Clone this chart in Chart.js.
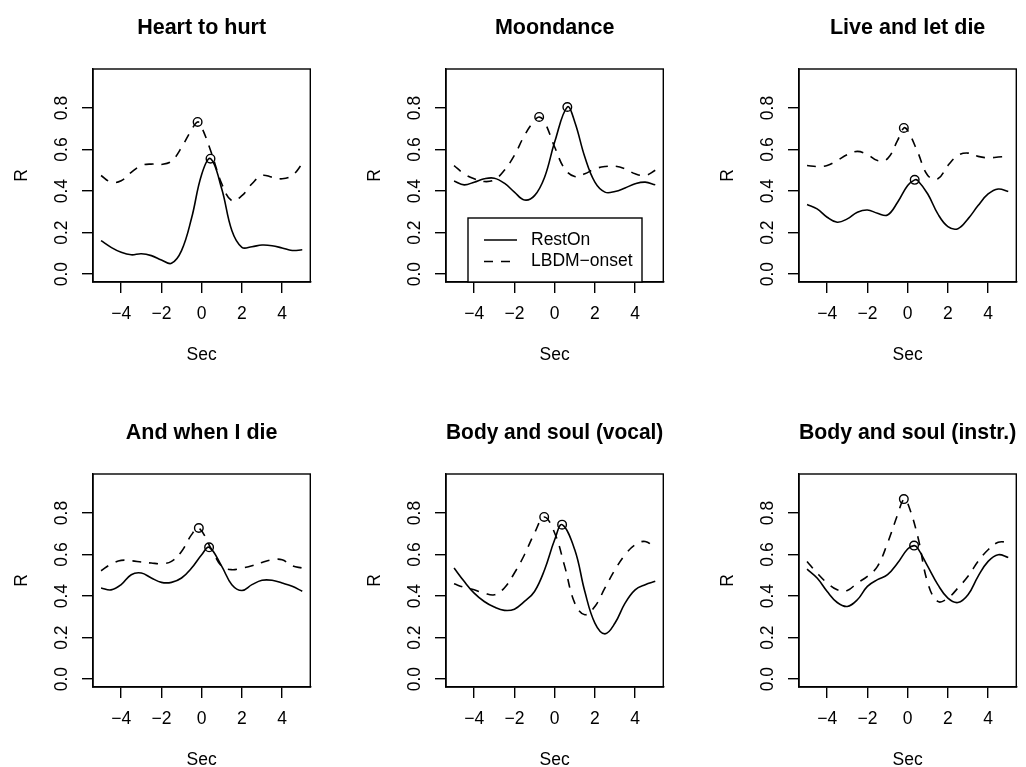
<!DOCTYPE html>
<html>
<head>
<meta charset="utf-8">
<script src="https://cdn.jsdelivr.net/npm/chart.js@4.4.1/dist/chart.umd.min.js"></script>
<style>
  body { margin: 0; background: #fff; overflow: hidden; }
  canvas { position: absolute; }
</style>
</head>
<body>
<canvas id="c0" width="316" height="362" style="left:0px;top:0px"></canvas>
<canvas id="c1" width="316" height="362" style="left:353px;top:0px"></canvas>
<canvas id="c2" width="316" height="362" style="left:706px;top:0px"></canvas>
<canvas id="c3" width="316" height="362" style="left:0px;top:405px"></canvas>
<canvas id="c4" width="316" height="362" style="left:353px;top:405px"></canvas>
<canvas id="c5" width="316" height="362" style="left:706px;top:405px"></canvas>
<script>
// lag in seconds, shared by every curve
const secs = [-5, -4.5, -4, -3.5, -3, -2.5, -2, -1.5, -1, -0.5, 0, 0.5, 1, 1.5, 2, 2.5, 3, 3.5, 4, 4.5, 5];
const xTicks = [-4, -2, 0, 2, 4];
const yTicks = [0, 0.2, 0.4, 0.6, 0.8];

const titles = ['Heart to hurt', 'Moondance', 'Live and let die',
  'And when I die', 'Body and soul (vocal)', 'Body and soul (instr.)'];

// correlation R, RestOn
const heartRest = [0.161, 0.129, 0.105, 0.093, 0.098, 0.089, 0.068, 0.052, 0.113, 0.27, 0.48, 0.55, 0.41, 0.21, 0.129, 0.132, 0.14, 0.137, 0.126, 0.114, 0.117];
const moonRest  = [0.448, 0.43, 0.443, 0.459, 0.462, 0.438, 0.395, 0.357, 0.378, 0.467, 0.636, 0.789, 0.733, 0.564, 0.443, 0.395, 0.398, 0.415, 0.435, 0.443, 0.43];
const liveRest  = [0.335, 0.314, 0.274, 0.25, 0.266, 0.298, 0.309, 0.293, 0.285, 0.346, 0.427, 0.451, 0.386, 0.29, 0.229, 0.219, 0.266, 0.33, 0.386, 0.41, 0.398];
const whenRest  = [0.439, 0.43, 0.455, 0.503, 0.511, 0.487, 0.466, 0.466, 0.487, 0.535, 0.599, 0.627, 0.543, 0.455, 0.427, 0.455, 0.476, 0.476, 0.463, 0.447, 0.423];
const vocalRest = [0.535, 0.471, 0.414, 0.374, 0.347, 0.331, 0.337, 0.374, 0.422, 0.527, 0.671, 0.736, 0.623, 0.422, 0.27, 0.218, 0.27, 0.366, 0.43, 0.455, 0.471];
const instrRest = [0.53, 0.487, 0.422, 0.369, 0.35, 0.382, 0.447, 0.479, 0.503, 0.559, 0.627, 0.631, 0.543, 0.455, 0.39, 0.369, 0.406, 0.495, 0.567, 0.599, 0.586];

// correlation R, LBDM onsets
const heartLbdm = [0.475, 0.443, 0.45, 0.49, 0.523, 0.53, 0.528, 0.544, 0.61, 0.696, 0.708, 0.58, 0.435, 0.354, 0.378, 0.435, 0.475, 0.467, 0.459, 0.475, 0.531];
const moonLbdm  = [0.523, 0.483, 0.459, 0.446, 0.454, 0.5, 0.572, 0.668, 0.74, 0.733, 0.612, 0.507, 0.47, 0.483, 0.507, 0.518, 0.52, 0.507, 0.483, 0.475, 0.5];
const liveLbdm  = [0.523, 0.518, 0.523, 0.547, 0.576, 0.591, 0.576, 0.547, 0.556, 0.644, 0.692, 0.588, 0.475, 0.459, 0.523, 0.572, 0.583, 0.567, 0.56, 0.564, 0.567];
const whenLbdm  = [0.522, 0.554, 0.572, 0.57, 0.564, 0.559, 0.556, 0.567, 0.615, 0.696, 0.72, 0.623, 0.543, 0.527, 0.535, 0.546, 0.562, 0.575, 0.575, 0.546, 0.535];
const vocalLbdm = [0.459, 0.442, 0.43, 0.414, 0.406, 0.439, 0.511, 0.599, 0.704, 0.776, 0.704, 0.543, 0.366, 0.31, 0.35, 0.439, 0.527, 0.599, 0.647, 0.663, 0.631];
const instrLbdm = [0.567, 0.511, 0.463, 0.43, 0.427, 0.463, 0.495, 0.543, 0.655, 0.792, 0.848, 0.688, 0.463, 0.374, 0.39, 0.439, 0.495, 0.567, 0.623, 0.659, 0.659];

// maxima [sec, R]: RestOn first, LBDM second
const heartPeaks = [[0.44, 0.556], [-0.2, 0.733]];
const moonPeaks  = [[0.63, 0.805], [-0.77, 0.757]];
const livePeaks  = [[0.35, 0.454], [-0.19, 0.704]];
const whenPeaks  = [[0.37, 0.635], [-0.14, 0.728]];
const vocalPeaks = [[0.37, 0.744], [-0.52, 0.781]];
const instrPeaks = [[0.32, 0.643], [-0.19, 0.867]];

const restSeries = [heartRest, moonRest, liveRest, whenRest, vocalRest, instrRest];
const lbdmSeries = [heartLbdm, moonLbdm, liveLbdm, whenLbdm, vocalLbdm, instrLbdm];
const peakSets = [heartPeaks, moonPeaks, livePeaks, whenPeaks, vocalPeaks, instrPeaks];

Chart.defaults.font.family = '"Liberation Sans", Arial, Helvetica, sans-serif';
Chart.defaults.color = '#000';

const MINUS = '\u2212';
const DASH = [9, 8];

// grid samples plus the maximum; a sample sitting right next to the maximum is dropped
function curve(ys, peak) {
  const pts = secs
    .map((x, i) => ({ x: x, y: ys[i] }))
    .filter(p => Math.abs(p.x - peak[0]) > 0.15);
  pts.push({ x: peak[0], y: peak[1] });
  return pts.sort((a, b) => a.x - b.x);
}

// full box around the plot region
const frame = {
  id: 'frame',
  afterDraw(chart) {
    const { ctx, chartArea: a } = chart;
    ctx.save();
    ctx.strokeStyle = '#000';
    ctx.lineWidth = 1.4;
    ctx.strokeRect(a.left, a.top, a.right - a.left, a.bottom - a.top);
    ctx.restore();
  }
};

// boxed key sitting on the bottom edge, centred
const keyBox = {
  id: 'keyBox',
  afterDraw(chart) {
    const { ctx, chartArea: a } = chart;
    const w = 174, h = 64;
    const lx = Math.round((a.left + a.right) / 2 - w / 2);
    const ty = a.bottom - h;
    ctx.save();
    ctx.fillStyle = '#fff';
    ctx.fillRect(lx, ty, w, h);
    ctx.strokeStyle = '#000';
    ctx.lineWidth = 1.4;
    ctx.strokeRect(lx, ty, w, h);
    ctx.font = '17.5px "Liberation Sans", Arial, sans-serif';
    ctx.textBaseline = 'middle';
    ctx.fillStyle = '#000';
    chart.data.datasets.slice(0, 2).forEach((ds, i) => {
      const y = ty + 22 + i * 21.5;
      ctx.lineWidth = ds.borderWidth;
      ctx.setLineDash(ds.borderDash || []);
      ctx.beginPath();
      ctx.moveTo(lx + 16, y);
      ctx.lineTo(lx + 49, y);
      ctx.stroke();
      ctx.setLineDash([]);
      ctx.fillText(ds.label, lx + 63, y);
    });
    ctx.restore();
  }
};

titles.forEach((title, k) => {
  const peaks = peakSets[k];
  new Chart(document.getElementById('c' + k), {
    type: 'line',
    data: {
      datasets: [{
        label: 'RestOn',
        data: curve(restSeries[k], peaks[0]),
        borderColor: '#000',
        borderWidth: 1.6,
        pointRadius: 0,
        tension: 0.4
      }, {
        label: 'LBDM' + MINUS + 'onset',
        data: curve(lbdmSeries[k], peaks[1]),
        borderColor: '#000',
        borderWidth: 1.6,
        borderDash: DASH,
        pointRadius: 0,
        tension: 0.4
      }, {
        label: 'max',
        data: peaks.map(p => ({ x: p[0], y: p[1] })),
        showLine: false,
        pointStyle: 'circle',
        pointRadius: 4.3,
        pointBorderWidth: 1.4,
        pointBorderColor: '#000',
        pointBackgroundColor: 'rgba(0,0,0,0)'
      }]
    },
    options: {
      responsive: false,
      animation: false,
      events: [],
      layout: { padding: 0 },
      plugins: {
        legend: { display: false },
        tooltip: { enabled: false },
        title: {
          display: true,
          text: title,
          fullSize: false,
          color: '#000',
          font: { size: 21.5, weight: 'bold' },
          padding: { top: 15.6, bottom: 27.6 }
        }
      },
      scales: {
        x: {
          type: 'linear',
          min: -5.4,
          max: 5.4,
          afterBuildTicks: s => { s.ticks = xTicks.map(v => ({ value: v })); },
          afterFit: s => { s.height = 80; },
          grid: { drawOnChartArea: false, tickLength: 11, color: '#000', lineWidth: 1.4 },
          border: { color: '#000', width: 1.4 },
          ticks: {
            autoSkip: false,
            maxRotation: 0,
            padding: 11,
            font: { size: 17.5 },
            callback: v => (v < 0 ? MINUS + Math.abs(v) : String(v))
          },
          title: {
            display: true,
            text: 'Sec',
            font: { size: 17.5, lineHeight: 0.8 },
            padding: { top: 0, bottom: 0 }
          }
        },
        y: {
          min: -0.038,
          max: 0.988,
          afterBuildTicks: s => { s.ticks = yTicks.map(v => ({ value: v })); },
          afterFit: s => { s.width = 93; },
          grid: { drawOnChartArea: false, tickLength: 11, color: '#000', lineWidth: 1.4 },
          border: { color: '#000', width: 1.4 },
          ticks: {
            autoSkip: false,
            minRotation: 90,
            maxRotation: 90,
            crossAlign: 'center',
            padding: 8,
            font: { size: 17.5 },
            callback: v => v.toFixed(1)
          },
          title: {
            display: true,
            text: 'R',
            font: { size: 17.5 },
            padding: { top: 12, bottom: 0 }
          }
        }
      }
    },
    plugins: k === 1 ? [frame, keyBox] : [frame]
  });
});
</script>
</body>
</html>
